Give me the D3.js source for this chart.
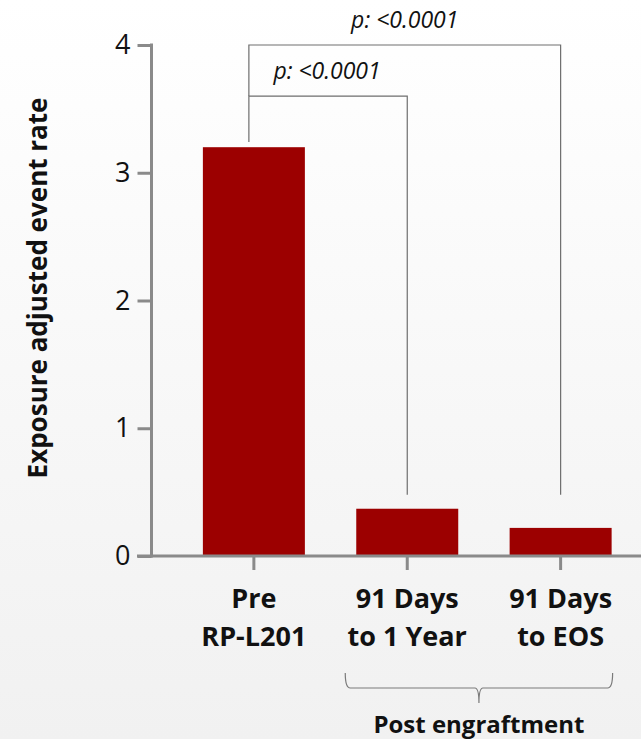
<!DOCTYPE html>
<html>
<head>
<meta charset="utf-8">
<script src="https://cdn.jsdelivr.net/npm/d3@7"></script>
<style>
  html, body { margin: 0; padding: 0; }
  body { width: 641px; height: 739px; overflow: hidden; }
  svg { display: block; font-family: "Open Sans", sans-serif; }
</style>
</head>
<body>
<svg id="chart" width="641" height="739"></svg>
<script>
// chart values
var categories = ["pre", "y1", "eos"];
var categoryLines = [["Pre", "RP-L201"], ["91 Days", "to 1 Year"], ["91 Days", "to EOS"]];
var rates = [3.20, 0.37, 0.22];
var yTicks = [0, 1, 2, 3, 4];
var yTitle = "Exposure adjusted event rate";
var groupLabel = "Post engraftment";
var groupMembers = ["y1", "eos"];

// significance brackets: compared categories, bracket level, leg ends (chart units)
var bracketFrom = ["pre", "pre"];
var bracketTo = ["y1", "eos"];
var bracketLevel = [3.6, 4.0];
var bracketLeftEnd = [3.24, 3.6];
var bracketRightEnd = [0.48, 0.48];
var bracketText = ["p: <0.0001", "p: <0.0001"];

var svg = d3.select("#chart");
var width = 641, height = 739;

// background: white fading into light grey
var defs = svg.append("defs");
var grad = defs.append("linearGradient")
    .attr("id", "bg")
    .attr("x1", 0).attr("y1", 0).attr("x2", 0).attr("y2", 1);
grad.append("stop").attr("offset", "0%").attr("stop-color", "#ffffff");
grad.append("stop").attr("offset", "100%").attr("stop-color", "#f1f1f1");
svg.append("rect")
    .attr("width", width).attr("height", height)
    .attr("fill", "url(#bg)");

var x = d3.scaleBand()
    .domain(categories)
    .range([151.5, 663])
    .padding(0.335);

var y = d3.scaleLinear()
    .domain([0, 4])
    .range([556, 45]);

var axisColor = "#8a8a8a";

// bars
svg.append("g").attr("id", "bars")
    .selectAll("rect")
    .data(rates)
    .enter()
    .append("rect")
    .attr("x", function(d, i) { return x(categories[i]); })
    .attr("y", function(d) { return y(d); })
    .attr("width", x.bandwidth())
    .attr("height", function(d) { return y(0) - y(d); })
    .attr("fill", "#9c0000");

// y axis
var yAxis = d3.axisLeft(y)
    .tickValues(yTicks)
    .tickSize(14)
    .tickPadding(7)
    .tickFormat(d3.format("d"));

var gy = svg.append("g")
    .attr("transform", "translate(151.5,0)")
    .call(yAxis);
gy.select(".domain").remove();
gy.append("line")
    .attr("x1", 0).attr("x2", 0)
    .attr("y1", y(4) - 1.5).attr("y2", y(0) + 1.5)
    .attr("stroke", axisColor).attr("stroke-width", 3);
gy.selectAll(".tick line").attr("stroke", axisColor).attr("stroke-width", 3);
gy.selectAll(".tick text")
    .attr("fill", "#111")
    .style("font-size", "27px")
    .style("font-family", "'Open Sans', sans-serif");

// x axis
var xAxis = d3.axisBottom(x)
    .tickSize(14)
    .tickFormat("");

var gx = svg.append("g")
    .attr("transform", "translate(0," + y(0) + ")")
    .call(xAxis);
gx.select(".domain").remove();
gx.append("line")
    .attr("x1", 137).attr("x2", width)
    .attr("y1", 0).attr("y2", 0)
    .attr("stroke", axisColor).attr("stroke-width", 3);
gx.selectAll(".tick line").attr("stroke", axisColor).attr("stroke-width", 3);

// category labels (two lines each)
var labels = svg.append("g").attr("id", "xlabels");
categories.forEach(function(c, i) {
    var t = labels.append("text")
        .attr("text-anchor", "middle")
        .attr("font-weight", "bold")
        .attr("font-size", "27px")
        .attr("fill", "#111");
    categoryLines[i].forEach(function(line, j) {
        t.append("tspan")
            .attr("x", x(c) + x.bandwidth() / 2)
            .attr("y", 608 + j * 38)
            .text(line);
    });
});

// y axis title
svg.append("text")
    .attr("transform", "translate(47,288) rotate(-90)")
    .attr("text-anchor", "middle")
    .attr("font-weight", "bold")
    .attr("font-size", "26px")
    .attr("fill", "#111")
    .text(yTitle);

// significance brackets
var mid = function(c) { return x(c) + x.bandwidth() / 2; };
var br = svg.append("g").attr("id", "brackets");
bracketFrom.forEach(function(f, i) {
    var x0 = mid(f) - 5;
    var x1 = mid(bracketTo[i]);
    var yl = y(bracketLevel[i]);
    br.append("path")
        .attr("d", "M" + x0 + "," + y(bracketLeftEnd[i]) +
                   "V" + yl + "H" + x1 + "V" + y(bracketRightEnd[i]))
        .attr("fill", "none")
        .attr("stroke", "#6e6e6e")
        .attr("stroke-width", 1.2);
    br.append("text")
        .attr("x", (x0 + x1) / 2 + (i === 0 ? -1 : 0))
        .attr("y", yl - 17)
        .attr("text-anchor", "middle")
        .attr("font-style", "italic")
        .attr("font-size", "23px")
        .attr("fill", "#111")
        .text(bracketText[i]);
});

// curly brace under the post engraftment group
var gx0 = x(groupMembers[0]) - 11;
var gx1 = x(groupMembers[groupMembers.length - 1]) + x.bandwidth() + 1;
var gmid = (gx0 + gx1) / 2;
var braceTop = 673, braceBar = 688, braceTip = 703;
svg.append("path")
    .attr("d",
        "M" + gx0 + "," + braceTop +
        "Q" + gx0 + "," + braceBar + " " + (gx0 + 5) + "," + braceBar +
        "H" + (gmid - 4) +
        "Q" + gmid + "," + braceBar + " " + gmid + "," + braceTip +
        "Q" + gmid + "," + braceBar + " " + (gmid + 4) + "," + braceBar +
        "H" + (gx1 - 5) +
        "Q" + gx1 + "," + braceBar + " " + gx1 + "," + braceTop)
    .attr("fill", "none")
    .attr("stroke", "#7a7a7a")
    .attr("stroke-width", 1.2);

svg.append("text")
    .attr("x", gmid)
    .attr("y", 733)
    .attr("text-anchor", "middle")
    .attr("font-weight", "bold")
    .attr("font-size", "24px")
    .attr("fill", "#111")
    .text(groupLabel);
</script>
</body>
</html>
